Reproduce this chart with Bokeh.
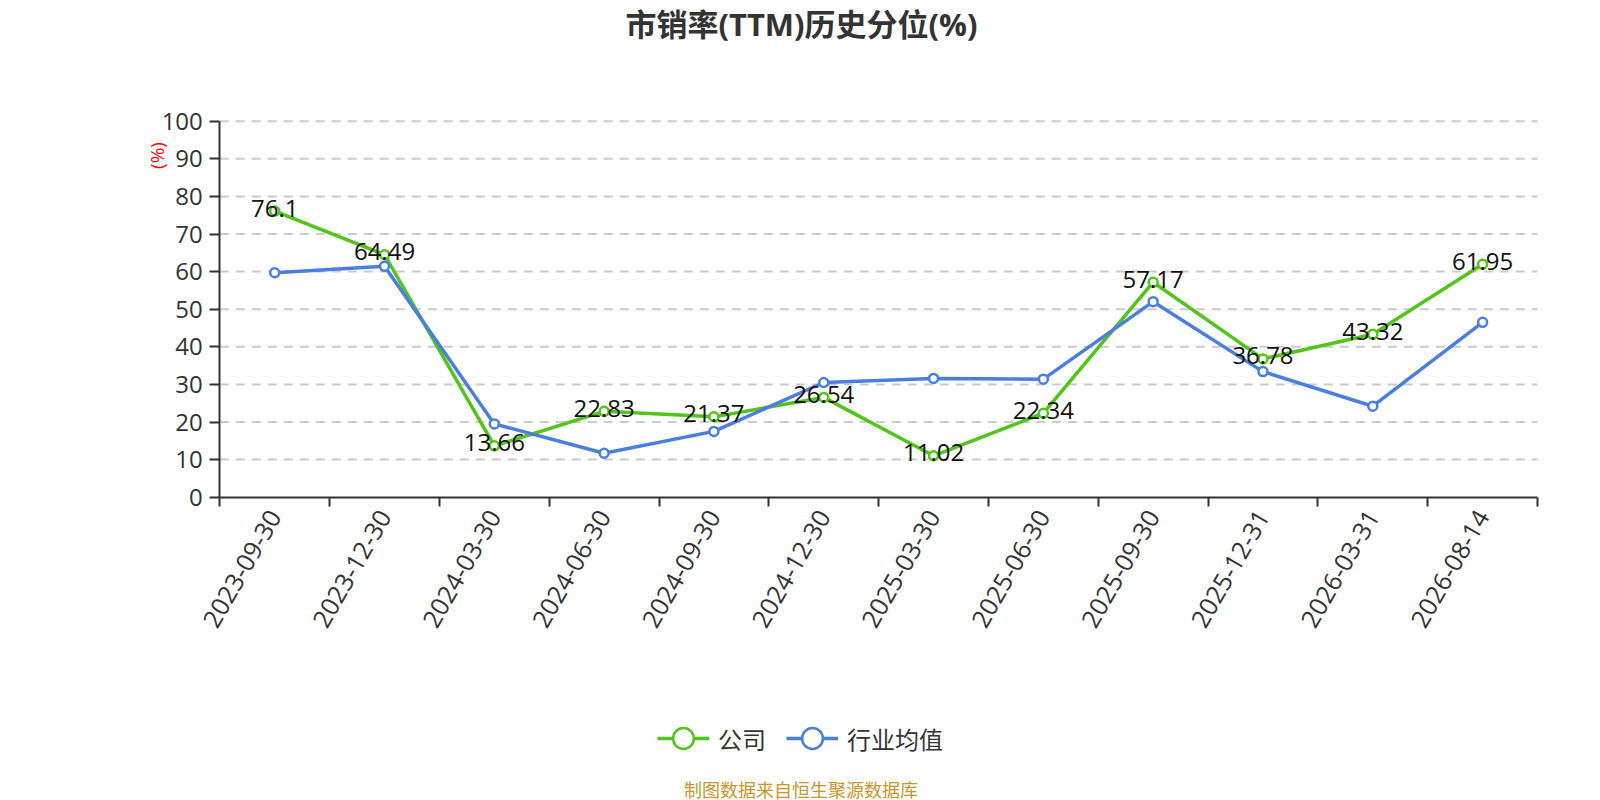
import math
from bokeh.plotting import figure
from bokeh.models import (ColumnDataSource, FixedTicker, Label, Legend, LegendItem, Range1d)
from bokeh.core.properties import value
from bokeh.embed import file_html
from bokeh.resources import INLINE

# ---- data ----
categories = ["2023-09-30", "2023-12-30", "2024-03-30", "2024-06-30", "2024-09-30",
              "2024-12-30", "2025-03-30", "2025-06-30", "2025-09-30", "2025-12-31",
              "2026-03-31", "2026-08-14"]
company = [76.1, 64.49, 13.66, 22.83, 21.37, 26.54, 11.02, 22.34, 57.17, 36.78, 43.32, 61.95]
industry = [59.7, 61.4, 19.5, 11.7, 17.5, 30.5, 31.6, 31.4, 52.0, 33.4, 24.2, 46.5]
company_labels = ["76.1", "64.49", "13.66", "22.83", "21.37", "26.54", "11.02", "22.34",
                  "57.17", "36.78", "43.32", "61.95"]
y_ticks = [0, 10, 20, 30, 40, 50, 60, 70, 80, 90, 100]
series_names = ["公司", "行业均值"]
title_text = "市销率(TTM)历史分位(%)"
y_name = "(%)"
footer_text = "制图数据来自恒生聚源数据库"

GREEN = "#52c41a"
BLUE = "#4a7fe0"
FONT = "Open Sans, Noto Sans CJK SC"
W, H = 1600, 800

# plot area in page pixels (frame covers whole canvas)
PX_L, PX_R, PX_T, PX_B = 219.3, 1537.0, 120.7, 496.7
n = len(categories)
ux = (PX_R - PX_L) / n
uy = (PX_B - PX_T) / 100.0
x_range = Range1d(-PX_L / ux, n + (W - PX_R) / ux)
y_range = Range1d(-(H - PX_B) / uy, 100 + PX_T / uy)

xs = [i + 0.5 for i in range(n)]
src = ColumnDataSource(dict(x=xs, company=company, industry=industry, lab=company_labels))

p = figure(width=W, height=H, output_backend="svg", toolbar_location=None,
           x_range=x_range, y_range=y_range,
           min_border_left=0, min_border_right=0, min_border_top=0, min_border_bottom=0)
p.outline_line_color = None
p.background_fill_color = "white"
p.border_fill_color = "white"
p.xgrid.grid_line_color = None
p.ygrid.grid_line_color = None

# axes fixed inside the frame
xa = p.xaxis[0]
xa.fixed_location = 0
xa.bounds = (0, n)
xa.ticker = FixedTicker(ticks=xs, minor_ticks=list(range(n + 1)))
xa.major_label_overrides = {x: c for x, c in zip(xs, categories)}
xa.major_tick_line_color = None
xa.major_tick_out = 9
xa.major_tick_in = 0
xa.minor_tick_line_color = "#333333"
xa.minor_tick_line_width = 2
xa.minor_tick_in = 0
xa.minor_tick_out = 9
xa.axis_line_color = "#333333"
xa.axis_line_width = 2
xa.major_label_orientation = math.pi / 3
xa.major_label_text_font = FONT
xa.major_label_text_font_size = "25px"
xa.major_label_text_color = "#333333"
xa.major_label_standoff = 6

ya = p.yaxis[0]
ya.fixed_location = 0
ya.bounds = (0, 100)
ya.ticker = FixedTicker(ticks=y_ticks)
ya.minor_tick_line_color = None
ya.major_tick_line_color = "#333333"
ya.major_tick_line_width = 2
ya.major_tick_in = 0
ya.major_tick_out = 10
ya.axis_line_color = "#333333"
ya.axis_line_width = 2
ya.major_label_text_font = FONT
ya.major_label_text_font_size = "24px"
ya.major_label_text_color = "#333333"
ya.major_label_standoff = 7

# dashed horizontal grid lines across the plot area
grid_y = y_ticks[1:]
p.segment(x0=[0] * len(grid_y), x1=[n] * len(grid_y), y0=grid_y, y1=grid_y,
          line_color="#cccccc", line_width=2, line_dash="9 7", level="underlay")

# series
cl = p.line("x", "company", source=src, color=GREEN, line_width=3.5)
cs = p.scatter("x", "company", source=src, size=9, fill_color="white", line_color=GREEN,
               line_width=2.5)
il = p.line("x", "industry", source=src, color=BLUE, line_width=3.5)
iss = p.scatter("x", "industry", source=src, size=9, fill_color="white", line_color=BLUE,
                line_width=2.5)

p.text("x", "company", text="lab", source=src, text_align="center", text_baseline="middle",
       y_offset=-3, text_font=value(FONT), text_font_size="24px", text_color="#111111")

legend = Legend(items=[LegendItem(label=series_names[0], renderers=[cl, cs]),
                       LegendItem(label=series_names[1], renderers=[il, iss])],
                orientation="horizontal",
                location=(657, H - 767),
                glyph_width=52, glyph_height=58, label_standoff=9, spacing=20,
                padding=0, margin=0, border_line_color=None, background_fill_alpha=0,
                label_text_font=FONT, label_text_font_size="24px", label_text_color="#333333")
p.add_layout(legend, "center")


def lbl(text, cx, cy, size, color, bold=False, angle=0.0):
    return Label(x=cx, y=H - cy, x_units="screen", y_units="screen", text=text, angle=angle,
                 text_align="center", text_baseline="middle", text_font=FONT,
                 text_font_size=size, text_font_style="bold" if bold else "normal",
                 text_color=color)


p.add_layout(lbl(title_text, 801, 23, "31px", "#333333", bold=True))
p.add_layout(lbl(y_name, 156, 155, "19px", "red", angle=math.pi / 2))
p.add_layout(lbl(footer_text, 800.5, 789, "18px", "#c9962b"))

open("out.html", "w").write(file_html(p, INLINE))
